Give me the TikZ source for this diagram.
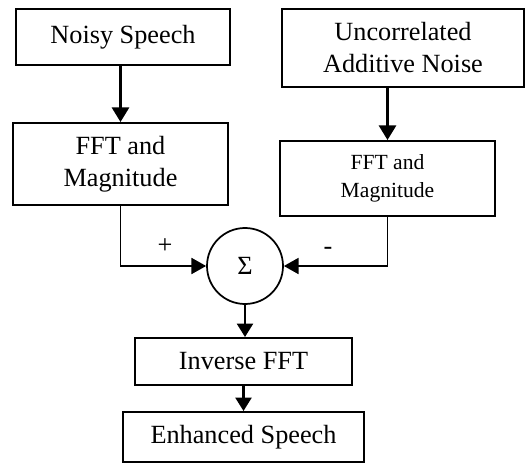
\documentclass[tikz,border=0pt]{standalone}
\usepackage{fontspec}
\setmainfont{Liberation Serif}
\usetikzlibrary{arrows.meta}
\begin{document}
\begin{tikzpicture}[x=0.75pt,y=-0.75pt,
  box/.style={draw, line width=1.5pt, inner sep=0pt, align=center,
    font=\fontsize{19.7}{24}\selectfont},
  smallbox/.style={box, font=\fontsize{16.2}{21}\selectfont},
  sumnode/.style={draw, circle, line width=1.3pt, inner sep=0pt,
    minimum size=57pt, font=\fontsize{19.7}{24}\selectfont},
  arr/.style={line width=1.6pt, -{Triangle[length=11pt,width=13pt]}},
  sarr/.style={line width=1.6pt, -{Triangle[length=10pt,width=12pt]}},
  link/.style={line width=1.3pt, -{Triangle[length=11pt,width=12pt]}},
  sign/.style={font=\fontsize{19.7}{24}\selectfont, inner sep=0pt}]
\useasboundingbox (0,0) rectangle (527,463);

% processing blocks
\node[box, minimum width=160.5pt, minimum height=42pt] (noisy) at (123,37) {Noisy Speech};
\node[box, minimum width=181.5pt, minimum height=58.5pt] (unc) at (403,48) {Uncorrelated\\Additive Noise};
\node[box, minimum width=161.25pt, minimum height=61.5pt] (fftl) at (120.5,164) {FFT and\\Magnitude};
\node[smallbox, minimum width=161.25pt, minimum height=56.25pt] (fftr) at (387.5,178.5) {FFT and\\Magnitude};
\node[sumnode] (sum) at (245,266) {Σ};
\node[box, minimum width=162.75pt, minimum height=35.25pt] (inv) at (243.5,361.5) {Inverse FFT};
\node[box, minimum width=180.75pt, minimum height=37.5pt] (enh) at (243.5,437) {Enhanced Speech};

% signs at the summing junction
\node[sign] (plus) at (165,246) {+};
\node[sign] (minus) at (328,251) {-};

% signal flow
\draw[arr] (fftl.north |- noisy.south) -- (fftl.north);
\draw[arr] (fftr.north |- unc.south) -- (fftr.north);
\draw[link] (fftl.south) |- (sum.west);
\draw[link] (fftr.south) |- (sum.east);
\draw[sarr] (sum.south) -- (sum.south |- inv.north);
\draw[sarr] (inv.south) -- (enh.north);
\end{tikzpicture}
\end{document}
